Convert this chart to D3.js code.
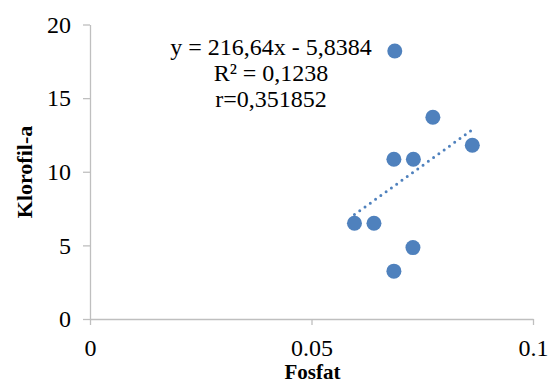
<!DOCTYPE html>
<html>
<head>
<meta charset="utf-8">
<script src="https://cdn.jsdelivr.net/npm/d3@7"></script>
<style>
  body { margin: 0; background: #fff; }
  svg text { font-family: "Liberation Serif", "Times New Roman", serif; fill: #000; }
  .axis path, .axis line { stroke: #bfbfbf; stroke-width: 1.3; fill: none; }
</style>
</head>
<body>
<div id="chart"></div>
<script>
// fosfat (x) vs klorofil-a (y)
var fosfat   = [0.0688, 0.0774, 0.0863, 0.0686, 0.0730, 0.0597, 0.0641, 0.0729, 0.0686]
var klorofil = [18.2, 13.7, 11.8, 10.85, 10.85, 6.5, 6.5, 4.85, 3.25]

var xTicks = [0, 0.05, 0.1]
var xTickLabels = ['0', '0.05', '0.1']
var yTicks = [0, 5, 10, 15, 20]

// linear trend shown on the chart
var slope = 216.64, intercept = -5.8384
var eqLines = ['y = 216,64x - 5,8384', 'R\u00b2 = 0,1238', 'r=0,351852']

var W = 554, H = 383
var svg = d3.select('#chart').append('svg').attr('width', W).attr('height', H)

var x = d3.scaleLinear().domain([0, 0.1]).range([90, 533])
var y = d3.scaleLinear().domain([0, 20]).range([319, 24.5])

// y axis
var gy = svg.append('g').attr('class', 'axis')
  .attr('transform', 'translate(' + x(0) + ',0)')
  .call(d3.axisLeft(y).tickValues(yTicks).tickSize(7).tickSizeOuter(0).tickPadding(12))
gy.selectAll('text').style('font-size', '24px')

// x axis
var gx = svg.append('g').attr('class', 'axis')
  .attr('transform', 'translate(0,' + y(0) + ')')
  .call(d3.axisBottom(x).tickValues(xTicks).tickSize(6).tickSizeOuter(0).tickPadding(14)
    .tickFormat(function(d, i){ return xTickLabels[i] }))
gx.selectAll('text').style('font-size', '24px')

// points
var pts = fosfat.map(function(d, i){ return {x: d, y: klorofil[i]} })
svg.append('g').selectAll('circle')
  .data(pts).enter().append('circle')
  .attr('cx', function(d){ return x(d.x) })
  .attr('cy', function(d){ return y(d.y) })
  .attr('r', 7.5)
  .attr('fill', '#4f81bd')

// dotted trendline over the data range
var x0 = d3.min(fosfat), x1 = d3.max(fosfat)
svg.append('line')
  .attr('x1', x(x0)).attr('y1', y(slope * x0 + intercept))
  .attr('x2', x(x1)).attr('y2', y(slope * x1 + intercept))
  .attr('stroke', '#4f81bd')
  .attr('stroke-width', 3)
  .attr('stroke-linecap', 'round')
  .attr('stroke-dasharray', '0 6.5')

// equation label
svg.append('g').selectAll('text')
  .data(eqLines).enter().append('text')
  .attr('x', 271)
  .attr('y', function(d, i){ return 55 + i * 26 })
  .attr('text-anchor', 'middle')
  .style('font-size', '24px')
  .text(function(d){ return d })

// axis titles
svg.append('text')
  .attr('x', (x(0) + x(0.1)) / 2 + 1).attr('y', 379)
  .attr('text-anchor', 'middle')
  .style('font-size', '21px').style('font-weight', 'bold')
  .text('Fosfat')

svg.append('text')
  .attr('transform', 'translate(32,172) rotate(-90)')
  .attr('text-anchor', 'middle')
  .style('font-size', '22px').style('font-weight', 'bold')
  .text('Klorofil-a')
</script>
</body>
</html>
